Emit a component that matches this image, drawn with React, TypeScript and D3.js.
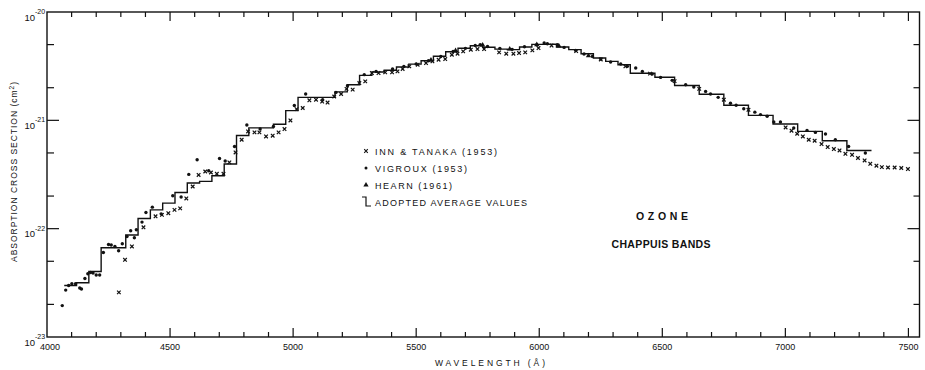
import React, { useEffect, useRef } from 'react'
import * as d3 from 'd3'

const width = 925
const height = 370

// adopted average values: step start (Å) and cross section (cm^2)
const stepStart = [
  4070, 4120, 4170, 4220, 4320, 4370, 4420, 4470, 4520, 4570, 4620, 4670, 4720, 4770, 4820, 4920, 4970, 5020,
  5170, 5220, 5270, 5320, 5370, 5420, 5470, 5520, 5570, 5620, 5670, 5720, 5770, 5820, 5870, 5920, 5970, 6020,
  6070, 6120, 6170, 6220, 6270, 6320, 6370, 6470, 6550, 6650, 6750, 6850, 6950, 7050, 7150, 7250,
]
const stepValue = [
  2.99e-23, 3.17e-23, 4.03e-23, 6.66e-23, 8.73e-23, 1.24e-22, 1.49e-22, 1.72e-22, 2.16e-22, 2.64e-22, 2.73e-22,
  3.08e-22, 3.95e-22, 7.24e-22, 8.51e-22, 9.2e-22, 1.23e-21, 1.63e-21, 1.83e-21, 2.13e-21, 2.6e-21, 2.79e-21,
  2.9e-21, 3.11e-21, 3.3e-21, 3.55e-21, 3.91e-21, 4.3e-21, 4.63e-21, 4.88e-21, 4.73e-21, 4.54e-21, 4.49e-21,
  4.75e-21, 5.02e-21, 5.04e-21, 4.75e-21, 4.49e-21, 4.12e-21, 3.76e-21, 3.5e-21, 3.26e-21, 2.72e-21, 2.5e-21,
  2.1e-21, 1.74e-21, 1.38e-21, 1.11e-21, 9.24e-22, 7.9e-22, 6.48e-22, 5.27e-22,
]
const stepEnd = 7350

// Inn & Tanaka (1953)
const innWl = [
  4292, 4317, 4345, 4392, 4441, 4467, 4493, 4518, 4541, 4566, 4592, 4616, 4643, 4666, 4690, 4717, 4741, 4766, 4791,
  4817, 4843, 4863, 4890, 4917, 4941, 4965, 4989, 5014, 5039, 5066, 5093, 5118, 5140, 5167, 5195, 5217, 5242, 5269,
  5293, 5320, 5347, 5374, 5402, 5424, 5445, 5472, 5506, 5540, 5566, 5591, 5618, 5645, 5668, 5691, 5722, 5749, 5776,
  5837, 5866, 5895, 5918, 5943, 5972, 5997, 6050, 6150, 6250, 6350, 6450, 6550, 6650, 6750, 6850, 7001, 7025, 7048,
  7071, 7095, 7119, 7147, 7172, 7197, 7220, 7244, 7271, 7295, 7322, 7345, 7370, 7392, 7417, 7444, 7471, 7498,
]
const innVal = [
  2.58e-23, 5.16e-23, 6.85e-23, 1.03e-22, 1.3e-22, 1.34e-22, 1.39e-22, 1.49e-22, 1.54e-22, 1.9e-22, 2.45e-22,
  3.13e-22, 3.37e-22, 3.3e-22, 3.21e-22, 3.21e-22, 4.09e-22, 5.05e-22, 6.62e-22, 7.9e-22, 7.74e-22, 7.74e-22,
  7.1e-22, 7.21e-22, 7.74e-22, 8.31e-22, 9.98e-22, 1.27e-21, 1.3e-21, 1.53e-21, 1.55e-21, 1.49e-21, 1.46e-21,
  1.66e-21, 1.75e-21, 1.95e-21, 1.92e-21, 2.21e-21, 2.29e-21, 2.73e-21, 2.73e-21, 2.77e-21, 2.77e-21, 2.83e-21,
  2.98e-21, 3.15e-21, 3.26e-21, 3.38e-21, 3.5e-21, 3.63e-21, 3.68e-21, 4.03e-21, 4.12e-21, 4.33e-21, 4.49e-21,
  4.55e-21, 4.55e-21, 4.24e-21, 4.12e-21, 4.12e-21, 4.18e-21, 4.24e-21, 4.42e-21, 4.65e-21, 4.9e-21, 4.35e-21,
  3.65e-21, 3.15e-21, 2.7e-21, 2.3e-21, 1.95e-21, 1.55e-21, 1.25e-21, 8.6e-22, 8.02e-22, 7.52e-22, 7.1e-22,
  6.62e-22, 6.48e-22, 6.04e-22, 5.67e-22, 5.43e-22, 5.27e-22, 4.91e-22, 4.81e-22, 4.49e-22, 4.26e-22, 3.97e-22,
  3.81e-22, 3.7e-22, 3.67e-22, 3.67e-22, 3.63e-22, 3.55e-22,
]

// Vigroux (1953)
const vigWl = [
  4062, 4076, 4088, 4101, 4116, 4133, 4140, 4154, 4166, 4177, 4187, 4200, 4214, 4229, 4250, 4261, 4276, 4291, 4306,
  4325, 4340, 4355, 4363, 4386, 4402, 4428, 4464, 4511, 4545, 4576, 4610, 4657, 4701, 4724, 4762, 4812, 4866, 4920,
  5005, 5051, 5120, 5174, 5221, 5289, 5337, 5404, 5450, 5500, 5550, 5600, 5650, 5700, 5740, 5760, 5790, 5840, 5890,
  5940, 5990, 6020, 6033, 6074, 6101, 6148, 6182, 6216, 6250, 6290, 6331, 6358, 6392, 6419, 6459, 6493, 6540, 6595,
  6628, 6676, 6696, 6727, 6777, 6800, 6831, 6876, 6899, 6926, 6953, 6980, 7034, 7088, 7122, 7163, 7203, 7257, 7325,
]
const vigVal = [
  1.95e-23, 2.71e-23, 2.99e-23, 3.1e-23, 3.1e-23, 2.83e-23, 2.77e-23, 3.47e-23, 3.83e-23, 3.94e-23, 3.89e-23,
  3.73e-23, 3.73e-23, 6.03e-23, 7.15e-23, 7.06e-23, 6.85e-23, 6.25e-23, 7.25e-23, 8.47e-23, 9.56e-23, 8.24e-23,
  9.77e-23, 1.15e-22, 1.41e-22, 1.58e-22, 1.37e-22, 2.01e-22, 1.96e-22, 3.17e-22, 4.33e-22, 3.42e-22, 4.45e-22,
  4.21e-22, 5.74e-22, 9.05e-22, 8.31e-22, 8.78e-22, 1.37e-21, 1.75e-21, 1.55e-21, 1.81e-21, 2.09e-21, 2.64e-21,
  2.83e-21, 2.98e-21, 3.15e-21, 3.32e-21, 3.55e-21, 3.88e-21, 4.32e-21, 4.62e-21, 4.9e-21, 5.0e-21, 4.8e-21,
  4.62e-21, 4.52e-21, 4.78e-21, 4.98e-21, 5.17e-21, 5.1e-21, 4.99e-21, 4.71e-21, 4.42e-21, 4.09e-21, 3.89e-21,
  3.68e-21, 3.45e-21, 3.31e-21, 3.15e-21, 3.04e-21, 2.83e-21, 2.68e-21, 2.49e-21, 2.34e-21, 2.13e-21, 2.03e-21,
  1.85e-21, 1.75e-21, 1.63e-21, 1.44e-21, 1.38e-21, 1.28e-21, 1.19e-21, 1.13e-21, 1.09e-21, 9.64e-22, 9.64e-22,
  8.49e-22, 8.07e-22, 7.74e-22, 7.48e-22, 6.62e-22, 5.74e-22, 4.99e-22,
]

// Hearn (1961)
const hearnWl = [5560, 5660, 5770, 5880, 5990, 6080, 6200]
const hearnVal = [3.6e-21, 4.4e-21, 4.95e-21, 4.55e-21, 5.0e-21, 4.85e-21, 3.95e-21]

const xLabels = [4000, 4500, 5000, 5500, 6000, 6500, 7000, 7500]
const yDecades = [1e-23, 1e-22, 1e-21, 1e-20]
const yExponents = ['-23', '-22', '-21', '-20']
const legendLabels = ['INN  & TANAKA (1953)', 'VIGROUX (1953)', 'HEARN (1961)', 'ADOPTED  AVERAGE  VALUES']

const font = '"Liberation Sans", Arial, sans-serif'
const ink = '#111'

const App = () => {
  const svgRef = useRef<SVGSVGElement>(null)

  useEffect(() => {
    const svg = d3.select(svgRef.current)
    svg.selectAll('*').remove()

    const left = 47
    const right = 919.5
    const top = 12
    const bottom = 337

    const x = d3.scaleLinear().domain([4000, 7545]).range([left, right])
    const y = d3.scaleLog().domain([1e-23, 1e-20]).range([bottom, top])

    svg.append('rect').attr('width', width).attr('height', height).attr('fill', '#fff')

    // frame
    svg
      .append('rect')
      .attr('x', left)
      .attr('y', top)
      .attr('width', right - left)
      .attr('height', bottom - top)
      .attr('fill', 'none')
      .attr('stroke', ink)
      .attr('stroke-width', 1.4)

    // x ticks, bottom and top, pointing inward
    const xTicks = d3.range(4100, 7550, 100)
    const tk = svg.append('g').attr('stroke', ink).attr('stroke-width', 1.2)
    xTicks.forEach(v => {
      const major = v % 500 === 0
      const len = major ? 9 : 5
      tk.append('line').attr('x1', x(v)).attr('x2', x(v)).attr('y1', bottom).attr('y2', bottom - len)
      tk.append('line').attr('x1', x(v)).attr('x2', x(v)).attr('y1', top).attr('y2', top + len)
    })

    // y ticks at 1, 2, 5 per decade, left and right
    const yTicks: [number, boolean][] = []
    yDecades.slice(0, 3).forEach(d => {
      yTicks.push([d * 2, false])
      yTicks.push([d * 5, false])
    })
    yDecades.slice(1, 3).forEach(d => yTicks.push([d, true]))
    yTicks.forEach(([v, major]) => {
      tk.append('line').attr('x1', left).attr('x2', left + (major ? 12 : 7)).attr('y1', y(v)).attr('y2', y(v))
      tk.append('line').attr('x1', right).attr('x2', right - (major ? 12 : 6)).attr('y1', y(v)).attr('y2', y(v))
    })

    // x tick labels (first one sits a little right of its tick, clear of 10^-23)
    svg
      .append('g')
      .selectAll('text')
      .data(xLabels)
      .enter()
      .append('text')
      .attr('x', (d, i) => x(d) + (i === 0 ? 3 : 0))
      .attr('y', 349.5)
      .attr('text-anchor', 'middle')
      .attr('font-family', font)
      .attr('font-size', 9)
      .attr('fill', ink)
      .text(d => d)

    // y tick labels (10 with superscript exponent)
    yDecades.forEach((d, i) => {
      const ty = y(d)
      svg
        .append('text')
        .attr('x', 35)
        .attr('y', ty + 8.5)
        .attr('text-anchor', 'end')
        .attr('font-family', font)
        .attr('font-size', 9.5)
        .attr('fill', ink)
        .text('10')
      svg
        .append('text')
        .attr('x', 35)
        .attr('y', ty + 2)
        .attr('font-family', font)
        .attr('font-size', 7)
        .attr('fill', ink)
        .text(yExponents[i])
    })

    // axis titles
    const yt = svg
      .append('text')
      .attr('transform', 'translate(17, 172) rotate(-90)')
      .attr('text-anchor', 'middle')
      .attr('font-family', font)
      .attr('font-size', 8.5)
      .attr('fill', ink)
      .attr('textLength', 180)
      .attr('lengthAdjust', 'spacing')
    yt.append('tspan').text('ABSORPTION  CROSS  SECTION (cm')
    yt.append('tspan').attr('dy', -3.5).attr('font-size', 6.5).text('2')
    yt.append('tspan').attr('dy', 3.5).text(')')

    svg
      .append('text')
      .attr('x', 490)
      .attr('y', 366)
      .attr('text-anchor', 'middle')
      .attr('font-family', font)
      .attr('font-size', 8.5)
      .attr('fill', ink)
      .attr('textLength', 110)
      .attr('lengthAdjust', 'spacing')
      .text('WAVELENGTH (Å)')

    // adopted average step line
    const stepPts: [number, number][] = stepStart.map((s, i) => [s, stepValue[i]])
    stepPts.push([stepEnd, stepValue[stepValue.length - 1]])
    const line = d3
      .line<[number, number]>()
      .x(d => x(d[0]))
      .y(d => y(d[1]))
      .curve(d3.curveStepAfter)
    svg
      .append('path')
      .attr('d', line(stepPts))
      .attr('fill', 'none')
      .attr('stroke', ink)
      .attr('stroke-width', 1.4)

    // Inn & Tanaka crosses
    const cross = d3.symbol().type(d3.symbolX).size(10)
    svg
      .append('g')
      .selectAll('path')
      .data(d3.zip(innWl, innVal))
      .enter()
      .append('path')
      .attr('d', cross())
      .attr('transform', d => `translate(${x(d[0])},${y(d[1])})`)
      .attr('fill', 'none')
      .attr('stroke', ink)
      .attr('stroke-width', 1.2)

    // Vigroux dots
    svg
      .append('g')
      .selectAll('circle')
      .data(d3.zip(vigWl, vigVal))
      .enter()
      .append('circle')
      .attr('cx', d => x(d[0]))
      .attr('cy', d => y(d[1]))
      .attr('r', 1.7)
      .attr('fill', ink)

    // Hearn triangles
    const tri = d3.symbol().type(d3.symbolTriangle).size(12)
    svg
      .append('g')
      .selectAll('path')
      .data(d3.zip(hearnWl, hearnVal))
      .enter()
      .append('path')
      .attr('d', tri())
      .attr('transform', d => `translate(${x(d[0])},${y(d[1])})`)
      .attr('fill', ink)

    // legend
    const lg = svg.append('g').attr('font-family', font).attr('font-size', 9).attr('fill', ink)
    const ly = [151, 168, 185, 202]
    const lw = [122, 92, 77, 152]
    legendLabels.forEach((t, i) => {
      lg.append('text')
        .attr('x', 375)
        .attr('y', ly[i] + 3.5)
        .attr('textLength', lw[i])
        .attr('lengthAdjust', 'spacing')
        .text(t)
    })
    lg.append('path').attr('d', cross()).attr('transform', `translate(366,${ly[0]})`).attr('fill', 'none').attr('stroke', ink).attr('stroke-width', 1.1)
    lg.append('circle').attr('cx', 366).attr('cy', ly[1]).attr('r', 1.5)
    lg.append('path').attr('d', tri()).attr('transform', `translate(366,${ly[2]})`)
    lg.append('path')
      .attr('d', `M362,${ly[3] - 5}H366V${ly[3] + 4}H371`)
      .attr('fill', 'none')
      .attr('stroke', ink)
      .attr('stroke-width', 1.2)

    // title
    const title = [
      ['OZONE', 662, 220, 52],
      ['CHAPPUIS BANDS', 661, 248, 99],
    ] as const
    title.forEach(([t, tx, ty, tl]) => {
      svg
        .append('text')
        .attr('x', tx)
        .attr('y', ty)
        .attr('text-anchor', 'middle')
        .attr('font-family', font)
        .attr('font-size', 10.5)
        .attr('font-weight', 'bold')
        .attr('fill', ink)
        .attr('textLength', tl)
        .attr('lengthAdjust', 'spacing')
        .text(t)
    })
  }, [])

  return (
    <svg
      ref={svgRef}
      width={width}
      height={height}
      style={{ position: 'absolute', left: 0, top: 0, display: 'block' }}
    />
  )
}

export default App
